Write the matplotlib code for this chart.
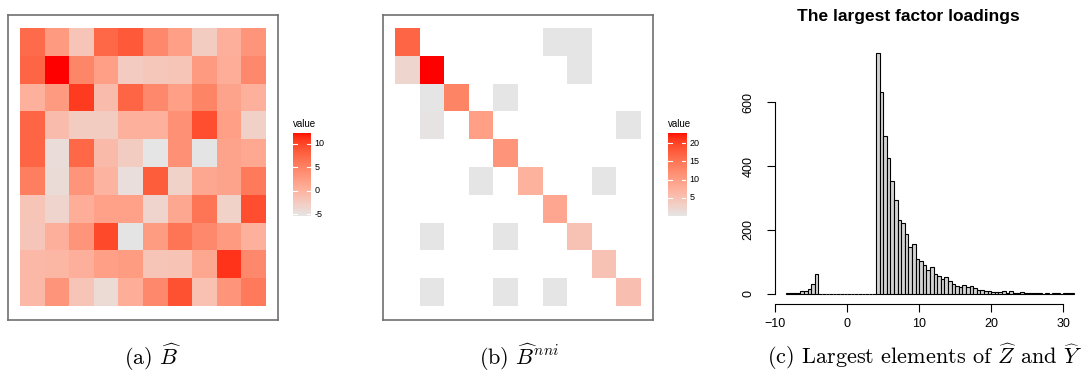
import numpy as np
import matplotlib
matplotlib.use("Agg")
import matplotlib.pyplot as plt
from matplotlib.colors import ListedColormap

plt.rcParams["font.family"] = ["Liberation Sans", "DejaVu Sans"]
plt.rcParams["mathtext.fontset"] = "cm"

# ---- data -------------------------------------------------------------
B_hat = [
    [7.0, 2.6, -1.9, 7.3, 8.4, 4.3, 2.0, -2.7, 0.4, 3.1],
    [7.5, 12.3, 4.5, 2.0, -2.6, -2.2, -1.9, 2.6, 0.6, 4.3],
    [0.3, 2.6, 10.5, -1.0, 7.5, 4.3, 2.0, 4.7, 1.7, 0.3],
    [7.5, -1.0, -2.7, -2.7, 0.3, 0.3, 3.5, 9.3, 2.0, -3.1],
    [7.5, -4.5, 7.3, -0.8, -2.7, -5.4, 3.5, -5.3, 1.7, 1.1],
    [5.2, -4.3, 3.1, -0.1, -4.7, 8.2, -3.3, 1.3, 1.7, 5.7],
    [-1.9, -3.6, 0.6, 1.9, 1.9, -3.6, 1.3, 6.1, -3.3, 9.3],
    [-2.0, 0.4, 3.1, 9.6, -5.3, 2.4, 6.1, 4.3, 2.6, 0.3],
    [-0.6, -0.3, 0.4, 2.0, 2.4, -1.9, -1.7, 1.3, 10.9, 4.3],
    [-0.6, 3.1, -1.9, -4.2, 0.6, 4.3, 9.1, -1.5, 3.1, 5.6],
]
B_hat_ticks = [-5, 0, 5, 10]

N = np.nan
B_nni = [
    [16.7, N, N, N, N, N, 0, 0, N, N],
    [2.3, 22.9, N, N, N, N, N, 0, N, N],
    [N, 0, 13.1, N, 0, N, N, N, N, N],
    [N, 0.3, N, 9.6, N, N, N, N, N, 0],
    [N, N, N, N, 11.0, N, N, N, N, N],
    [N, N, N, 0, N, 7.1, N, N, 0, N],
    [N, N, N, N, N, N, 8.7, N, N, N],
    [N, 0, N, N, 0, N, N, 5.0, N, N],
    [N, N, N, N, N, N, N, N, 5.0, N],
    [N, 0, N, N, 0, N, 0, N, N, 5.3],
]
B_nni_ticks = [5, 10, 15, 20]

# histogram of the largest loadings, bins of width 0.5 starting at -8.5
bin_start = -8.5
bin_width = 0.5
counts = [1, 1, 2, 4, 9, 10, 15, 32, 61] + [0] * 16 + [
    753, 633, 493, 424, 352, 295, 232, 223, 186, 148,
    157, 110, 104, 89, 75, 84, 62, 55, 45, 53,
    39, 31, 25, 21, 28, 21, 23, 18, 13, 12,
    9, 9, 7, 6, 6, 10, 2, 10, 4, 4,
    5, 2, 1, 4, 2, 1, 0, 2, 0, 1,
    1, 0, 1, 2, 1,
]
hist_xticks = [-10, 0, 10, 20, 30]
hist_yticks = [0, 200, 400, 600]


# ---- grey90 -> red gradient, interpolated in Lab like ggplot ----------
def lab2rgb(lab):
    L, a, b = lab[:, 0], lab[:, 1], lab[:, 2]
    fy = (L + 16) / 116
    fx = fy + a / 500
    fz = fy - b / 200

    def finv(t):
        return np.where(t ** 3 > 0.008856, t ** 3, (t - 16 / 116) / 7.787)

    X = 0.95047 * finv(fx)
    Y = finv(fy)
    Z = 1.08883 * finv(fz)
    r = 3.2406 * X - 1.5372 * Y - 0.4986 * Z
    g = -0.9689 * X + 1.8758 * Y + 0.0415 * Z
    bb = 0.0557 * X - 0.2040 * Y + 1.0570 * Z
    rgb = np.clip(np.stack([r, g, bb], axis=1), 0, 1)
    rgb = np.where(rgb <= 0.0031308, 12.92 * rgb, 1.055 * rgb ** (1 / 2.4) - 0.055)
    return np.clip(rgb, 0, 1)


t = np.linspace(0, 1, 256)[:, None]
lab = (1 - t) * np.array([90.94, 0, 0]) + t * np.array([53.24, 80.09, 67.20])
cmap = ListedColormap(lab2rgb(lab))
cmap.set_bad("white")

W, H = 1088, 377


def box(x0, y0, x1, y1):
    return [x0 / W, 1 - y1 / H, (x1 - x0) / W, (y1 - y0) / H]


fig = plt.figure(figsize=(W / 100, H / 100), dpi=100)


def heatmap(rect, data, cbar_rect, ticks):
    arr = np.ma.masked_invalid(np.array(data, dtype=float))
    vmin, vmax = arr.min(), arr.max()
    ax = fig.add_axes(rect)
    ax.imshow(arr, cmap=cmap, vmin=vmin, vmax=vmax, extent=(0, 10, 10, 0),
              aspect="auto", interpolation="nearest")
    ax.set_xlim(-0.49, 10.49)
    ax.set_ylim(10.52, -0.48)
    ax.set_xticks([])
    ax.set_yticks([])
    for s in ax.spines.values():
        s.set_color("#707070")
        s.set_linewidth(1.2)

    cax = fig.add_axes(cbar_rect)
    cax.imshow(np.linspace(vmin, vmax, 256)[:, None], cmap=cmap, vmin=vmin, vmax=vmax,
               origin="lower", extent=(0, 1, vmin, vmax), aspect="auto")
    cax.set_xlim(0, 1)
    cax.set_ylim(vmin, vmax)
    cax.axis("off")
    for v in ticks:
        cax.plot([0, 0.2], [v, v], color="white", lw=0.8)
        cax.plot([0.8, 1], [v, v], color="white", lw=0.8)
        cax.text(1.2, v, str(v), transform=cax.get_yaxis_transform(),
                 va="center", ha="left", fontsize=6.5, clip_on=False)
    cax.text(0, 1.04, "value", transform=cax.transAxes, va="bottom", ha="left", fontsize=7)


heatmap(box(8, 14.7, 278, 320), B_hat, box(293, 132.7, 311, 216), B_hat_ticks)
heatmap(box(383, 14.7, 653, 320), B_nni, box(668, 132.7, 686, 216), B_nni_ticks)

# ---- histogram ---------------------------------------------------------
ax3 = fig.add_axes(box(774.5, 41.4, 1085.6, 303.5))
edges = bin_start + bin_width * np.arange(len(counts))
ax3.bar(edges, counts, width=bin_width, align="edge", color="#D3D3D3",
        edgecolor="black", linewidth=0.8)
ax3.set_xlim(-10.1, 33.1)
ax3.set_ylim(-30.4, 790.4)
ax3.spines["top"].set_visible(False)
ax3.spines["right"].set_visible(False)
ax3.spines["left"].set_bounds(0, 600)
ax3.spines["bottom"].set_bounds(-10, 30)
ax3.set_xticks(hist_xticks)
ax3.set_yticks(hist_yticks)
ax3.tick_params(axis="both", direction="out", length=5.5, width=0.8, labelsize=9)
ax3.tick_params(axis="x", pad=5)
ax3.tick_params(axis="y", pad=9)
plt.setp(ax3.get_yticklabels(), rotation=90, va="center")
fig.text(908 / W, 1 - 17 / H, "The largest factor loadings", ha="center", va="center",
         fontsize=12.5, fontweight="bold")

# ---- captions -----------------------------------------------------------
cap_kw = dict(ha="center", va="center", fontsize=16, family="cmr10")
fig.text(152 / W, 1 - 357 / H, r"(a) $\widehat{B}$", **cap_kw)
fig.text(519 / W, 1 - 357 / H, r"(b) $\widehat{B}^{nni}$", **cap_kw)
fig.text(925 / W, 1 - 357 / H, r"(c) Largest elements of $\widehat{Z}$ and $\widehat{Y}$", **cap_kw)

fig.savefig("out.png", dpi=100)
